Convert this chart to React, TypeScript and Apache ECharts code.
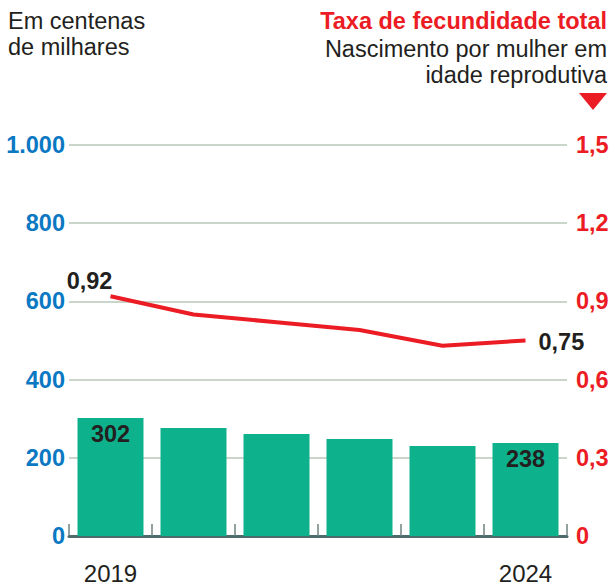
import React, { useEffect, useRef } from "react";
import * as echarts from "echarts";

const years = ["2019", "2020", "2021", "2022", "2023", "2024"];
const births = [302, 276, 261, 248, 230, 238];
const fertility = [0.92, 0.85, 0.82, 0.79, 0.73, 0.75];
const leftTicks = { min: 0, max: 1000, interval: 200 };
const rightTicks = { min: 0, max: 1.5, interval: 0.3 };

const FONT = "'Liberation Sans', Arial, Helvetica, sans-serif";
const RED = "#ec1c24";
const BLUE = "#0a78c2";
const TEAL = "#0db28c";
const DARK = "#231f20";
const FS = 23.5;

export default function App() {
  const ref = useRef<HTMLDivElement>(null);
  useEffect(() => {
    const chart = echarts.init(ref.current!, null, { renderer: "svg" });
    const last = years.length - 1;
    chart.setOption({
      animation: false,
      textStyle: { fontFamily: FONT },
      grid: { left: 69, right: 48, top: 145, bottom: 45 },
      graphic: [
        { type: "text", left: 8, top: 9, style: { text: "Em centenas", font: `${FS}px ${FONT}`, fill: DARK } },
        { type: "text", left: 8, top: 35, style: { text: "de milhares", font: `${FS}px ${FONT}`, fill: DARK } },
        { type: "text", right: 8, top: 9, style: { text: "Taxa de fecundidade total", font: `bold ${FS}px ${FONT}`, fill: RED } },
        { type: "text", right: 8, top: 37, style: { text: "Nascimento por mulher em", font: `${FS}px ${FONT}`, fill: DARK } },
        { type: "text", right: 8, top: 63, style: { text: "idade reprodutiva", font: `${FS}px ${FONT}`, fill: DARK } },
        {
          type: "polygon",
          shape: { points: [[579, 93], [607, 93], [593, 110]] },
          style: { fill: RED },
        },
      ],
      xAxis: {
        type: "category",
        data: years,
        axisLine: { show: true, lineStyle: { color: "#4e6b6b", width: 3 } },
        axisTick: { show: true, inside: true, length: 12, interval: 0, alignWithLabel: false, lineStyle: { color: "#6f8282", width: 1.5 } },
        axisLabel: {
          interval: (i: number) => i === 0 || i === last,
          margin: 25,
          fontSize: 24,
          color: DARK,
          fontFamily: FONT,
        },
      },
      yAxis: [
        {
          type: "value",
          min: leftTicks.min,
          max: leftTicks.max,
          interval: leftTicks.interval,
          axisLine: { show: false },
          axisTick: { show: false },
          splitLine: { show: true, lineStyle: { color: "#b8c8b9", width: 1.5 } },
          axisLabel: {
            margin: 4,
            fontSize: FS,
            fontWeight: "bold",
            color: BLUE,
            fontFamily: FONT,
            formatter: (v: number) => (v >= 1000 ? `${Math.floor(v / 1000)}.${String(v % 1000).padStart(3, "0")}` : String(v)),
          },
        },
        {
          type: "value",
          min: rightTicks.min,
          max: rightTicks.max,
          interval: rightTicks.interval,
          axisLine: { show: false },
          axisTick: { show: false },
          splitLine: { show: false },
          axisLabel: {
            margin: 9,
            fontSize: FS,
            fontWeight: "bold",
            color: RED,
            fontFamily: FONT,
            formatter: (v: number) => (v === 0 ? "0" : v.toFixed(1).replace(".", ",")),
          },
        },
      ],
      series: [
        {
          type: "bar",
          yAxisIndex: 0,
          barCategoryGap: "20.5%",
          itemStyle: { color: TEAL },
          data: births.map((v, i) => ({
            value: v,
            label: {
              show: i === 0 || i === last,
              position: "insideTop",
              distance: 4,
              fontSize: FS,
              fontWeight: "bold",
              color: DARK,
              fontFamily: FONT,
            },
          })),
          z: 2,
        },
        {
          type: "line",
          yAxisIndex: 1,
          symbol: "circle",
          symbolSize: 0,
          showSymbol: true,
          itemStyle: { color: RED },
          lineStyle: { color: RED, width: 4 },
          data: fertility.map((v, i) => ({
            value: v,
            label: {
              show: i === 0 || i === last,
              position: i === 0 ? "top" : "right",
              offset: i === 0 ? [-21, 3] : [0, 1],
              distance: i === 0 ? 6 : 13,
              fontSize: FS,
              fontWeight: "bold",
              color: DARK,
              fontFamily: FONT,
              formatter: (p: any) => p.value.toFixed(2).replace(".", ","),
            },
          })),
          z: 3,
        },
      ],
    });
    return () => chart.dispose();
  }, []);
  return <div ref={ref} style={{ width: 615, height: 585, position: "absolute", left: 0, top: 0 }} />;
}
